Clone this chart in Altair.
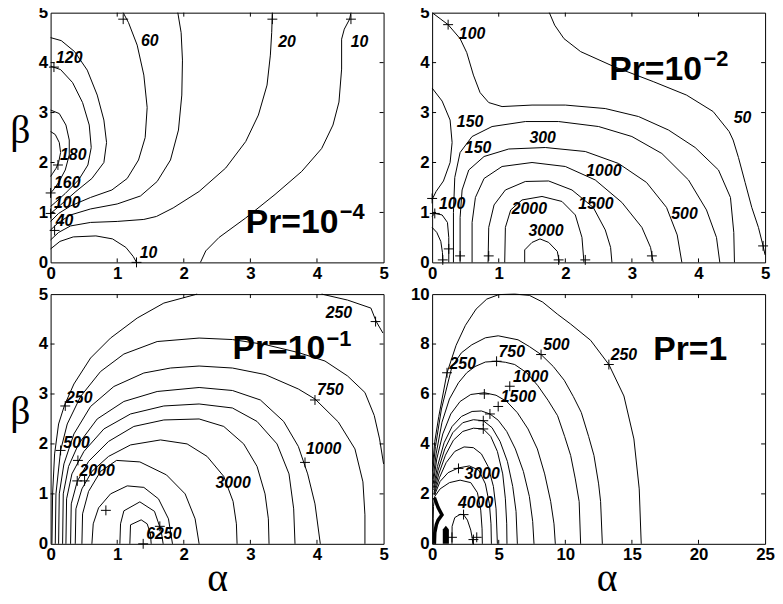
import altair as alt
import pandas as pd

W, H = 336, 252

# ---------------- Panel 1 : Pr = 10^-4 ----------------
p1_lines = {
    "180": [(0, 2.62), (0.07, 2.56), (0.13, 2.4), (0.15, 2.2), (0.12, 2.0), (0.08, 1.88), (0.03, 1.78), (0, 1.72)],
    "160": [(0, 3.05), (0.13, 2.98), (0.23, 2.75), (0.28, 2.45), (0.28, 2.15), (0.22, 1.85), (0.12, 1.6), (0.04, 1.45), (0, 1.39)],
    "120": [(0, 3.93), (0.15, 3.86), (0.33, 3.6), (0.48, 3.2), (0.58, 2.75), (0.61, 2.3), (0.56, 1.95), (0.42, 1.65), (0.22, 1.38), (0.07, 1.2), (0, 1.12)],
    "100": [(0, 4.5), (0.16, 4.44), (0.36, 4.22), (0.55, 3.85), (0.7, 3.35), (0.8, 2.85), (0.84, 2.4), (0.8, 2.0), (0.62, 1.68), (0.38, 1.42), (0.15, 1.15), (0, 0.98)],
    "60": [(0, 0.82), (0.12, 0.98), (0.3, 1.13), (0.6, 1.3), (0.92, 1.45), (1.15, 1.68), (1.32, 2.05), (1.42, 2.5), (1.45, 3.1), (1.4, 3.75), (1.3, 4.35), (1.17, 4.8), (1.09, 5.0)],
    "40": [(0, 0.65), (0.12, 0.8), (0.3, 0.95), (0.6, 1.07), (1.0, 1.17), (1.35, 1.33), (1.6, 1.62), (1.8, 2.05), (1.92, 2.65), (1.97, 3.35), (1.98, 4.05), (1.96, 4.6), (1.91, 5.0)],
    "20": [(0, 0.45), (0.12, 0.6), (0.3, 0.73), (0.6, 0.8), (1.0, 0.82), (1.4, 0.86), (1.59, 0.92), (1.84, 1.09), (2.23, 1.42), (2.63, 1.89), (2.93, 2.42), (3.12, 2.95), (3.25, 3.55), (3.3, 4.15), (3.32, 4.6), (3.33, 5.0)],
    "10a": [(0, 0.27), (0.14, 0.42), (0.34, 0.51), (0.68, 0.53), (0.93, 0.47), (1.13, 0.3), (1.24, 0.12), (1.29, 0)],
    "10b": [(4.51, 5.0), (4.49, 4.87), (4.41, 4.67), (4.37, 4.47), (4.37, 3.87), (4.33, 3.21), (4.24, 2.75), (4.07, 2.28), (3.77, 1.82), (3.37, 1.36), (2.93, 0.89), (2.53, 0.5), (2.33, 0.23), (2.25, 0)],
}
p1_plus = [(1.09, 4.87), (3.33, 4.87), (4.51, 4.87), (0.05, 3.91), (0.11, 1.95), (0, 1.39), (0, 0.98), (0.06, 0.64), (1.29, 0)]
p1_labels = [("60", 1.49, 4.44), ("20", 3.55, 4.42), ("10", 4.64, 4.42), ("120", 0.28, 4.1), ("180", 0.34, 2.15),
             ("160", 0.25, 1.59), ("100", 0.25, 1.18), ("40", 0.21, 0.82), ("10", 1.47, 0.19)]
p1_pr = ("Pr=10", 2.93, 0.78)
p1_sup = ("\u22124", 2.93, 0.78)

# ---------------- Panel 2 : Pr = 10^-2 ----------------
p2_lines = {
    "50": [(1.76, 5), (1.84, 4.75), (1.98, 4.48), (2.23, 4.22), (2.73, 3.92), (3.32, 3.62), (3.82, 3.35), (4.22, 3.02), (4.46, 2.62), (4.52, 2.45), (4.6, 2.1), (4.7, 1.6), (4.8, 1.1), (4.9, 0.7), (4.97, 0.33), (5.0, 0.15)],
    "100": [(0, 5), (0.12, 4.88), (0.24, 4.76), (0.42, 4.48), (0.52, 4.2), (0.62, 3.75), (0.72, 3.4), (0.85, 3.2), (1.05, 3.12), (1.5, 3.15), (2.0, 3.15), (2.6, 3.08), (3.1, 2.92), (3.55, 2.65), (3.95, 2.3), (4.3, 1.85), (4.48, 1.3), (4.53, 0.6), (4.54, 0)],
    "150a": [(0, 3.49), (0.15, 3.23), (0.27, 2.85), (0.3, 2.4), (0.27, 2.0), (0.17, 1.63), (0.06, 1.42), (0.015, 1.3), (0, 1.25)],
    "150b": [(0.32, 0), (0.32, 1.0), (0.34, 1.7), (0.42, 2.2), (0.6, 2.52), (0.9, 2.72), (1.4, 2.82), (1.9, 2.82), (2.5, 2.72), (3.0, 2.52), (3.45, 2.18), (3.85, 1.65), (4.12, 1.05), (4.27, 0.5), (4.32, 0)],
    "300": [(0.42, 0), (0.42, 0.9), (0.45, 1.45), (0.55, 1.85), (0.78, 2.12), (1.15, 2.27), (1.7, 2.3), (2.3, 2.22), (2.8, 1.98), (3.22, 1.6), (3.52, 1.1), (3.68, 0.55), (3.75, 0)],
    "1000": [(0.6, 0), (0.6, 0.8), (0.65, 1.3), (0.78, 1.68), (1.05, 1.92), (1.5, 2.0), (2.0, 1.92), (2.45, 1.65), (2.85, 1.2), (3.15, 0.7), (3.28, 0.3), (3.32, 0)],
    "1500": [(0.84, 0), (0.85, 0.7), (0.93, 1.15), (1.1, 1.45), (1.4, 1.62), (1.75, 1.63), (2.1, 1.45), (2.42, 1.1), (2.6, 0.65), (2.68, 0.3), (2.7, 0)],
    "2000": [(1.09, 0), (1.1, 0.7), (1.18, 1.05), (1.35, 1.25), (1.65, 1.32), (1.95, 1.22), (2.15, 0.95), (2.25, 0.5), (2.28, 0)],
    "3000": [(1.39, 0), (1.39, 0.25), (1.5, 0.4), (1.62, 0.47), (1.75, 0.4), (1.88, 0.22), (1.91, 0)],
    "100c": [(0, 0.92), (0.04, 0.98), (0.15, 0.95), (0.23, 0.8), (0.25, 0.5), (0.25, 0)],
    "50c": [(0, 0.7), (0.07, 0.6), (0.13, 0.42), (0.155, 0.2), (0.16, 0)],
}
p2_plus = [(0.24, 4.76), (0, 1.28), (0.04, 0.98), (0.16, 0.05), (0.25, 0.27), (0.42, 0.13), (0.85, 0.13),
           (1.9, 0.05), (2.3, 0.05), (3.3, 0.13), (4.97, 0.33)]
p2_labels = [("100", 0.6, 4.58), ("150", 0.57, 2.82), ("150", 0.69, 2.29), ("300", 1.66, 2.49), ("1000", 2.58, 1.83),
             ("50", 4.66, 2.89), ("100", 0.3, 1.16), ("2000", 1.46, 1.06), ("1500", 2.46, 1.16), ("500", 3.79, 0.96),
             ("3000", 1.71, 0.63)]
p2_pr = ("Pr=10", 2.66, 3.85)
p2_sup = ("\u22122", 2.66, 3.85)

# ---------------- Panel 3 : Pr = 10^-1 ----------------
p3_lines = {
    "A1": [(0.02, 0), (0.03, 1.0), (0.06, 1.8), (0.12, 2.4), (0.21, 2.78), (0.35, 3.2), (0.6, 3.72), (0.9, 4.12), (1.3, 4.52), (1.7, 4.82), (2.2, 5.0)],
    "A1b": [(4.07, 5.0), (4.46, 4.88), (4.81, 4.72), (4.89, 4.45), (4.99, 4.22)],
    "A2": [(0.07, 0), (0.08, 1.0), (0.15, 1.87), (0.25, 2.4), (0.45, 2.95), (0.75, 3.45), (1.1, 3.8), (1.6, 4.05), (2.23, 4.12), (2.73, 4.09), (3.22, 3.99), (3.72, 3.83), (4.12, 3.66), (4.46, 3.36), (4.72, 3.03), (4.86, 2.57), (4.94, 2.1), (5.0, 1.6)],
    "A3": [(0.12, 0), (0.13, 1.0), (0.2, 1.6), (0.35, 2.2), (0.6, 2.75), (0.95, 3.15), (1.4, 3.42), (1.8, 3.52), (2.23, 3.56), (2.73, 3.52), (3.22, 3.39), (3.72, 3.1), (3.97, 2.9), (4.32, 2.44), (4.57, 1.9), (4.69, 1.24), (4.72, 0.58), (4.72, 0)],
    "A4": [(0.18, 0), (0.19, 1.0), (0.27, 1.55), (0.42, 2.0), (0.7, 2.5), (1.1, 2.85), (1.6, 3.05), (2.23, 3.13), (2.73, 3.07), (3.15, 2.88), (3.5, 2.45), (3.72, 1.95), (3.86, 1.4), (3.97, 0.8), (4.05, 0)],
    "A5": [(0.23, 0), (0.24, 0.9), (0.32, 1.4), (0.5, 1.85), (0.8, 2.3), (1.2, 2.6), (1.7, 2.76), (2.23, 2.8), (2.73, 2.72), (3.1, 2.45), (3.4, 2.0), (3.58, 1.4), (3.65, 0.7), (3.67, 0)],
    "A6": [(0.3, 0), (0.31, 0.8), (0.4, 1.25), (0.57, 1.65), (0.87, 2.05), (1.25, 2.35), (1.7, 2.48), (2.23, 2.5), (2.6, 2.35), (2.9, 2.0), (3.1, 1.55), (3.22, 1.0), (3.27, 0.5), (3.28, 0)],
    "A7": [(0.37, 0), (0.38, 0.7), (0.47, 1.1), (0.62, 1.45), (0.87, 1.75), (1.2, 1.98), (1.65, 2.08), (2.05, 2.0), (2.35, 1.75), (2.6, 1.35), (2.74, 0.85), (2.79, 0.4), (2.8, 0)],
    "A8": [(0.47, 0), (0.48, 0.6), (0.57, 1.05), (0.75, 1.45), (0.99, 1.67), (1.34, 1.64), (1.74, 1.38), (2.02, 1.0), (2.17, 0.5), (2.23, 0)],
    "A9": [(0.62, 0), (0.64, 0.4), (0.72, 0.72), (0.9, 1.0), (1.15, 1.16), (1.4, 1.13), (1.62, 0.9), (1.77, 0.5), (1.83, 0)],
    "A10": [(1.04, 0), (1.05, 0.4), (1.1, 0.66), (1.34, 0.84), (1.56, 0.65), (1.66, 0.26), (1.69, 0)],
    "A11": [(1.19, 0), (1.2, 0.38), (1.36, 0.48), (1.45, 0.4), (1.5, 0.2), (1.51, 0)],
}
p3_plus = [(0.22, 2.76), (0.15, 1.87), (0.41, 1.67), (0.4, 1.26), (0.51, 1.26), (0.83, 0.67), (1.39, 0),
           (1.64, 0.35), (3.97, 2.88), (3.82, 1.63), (4.88, 4.45)]
p3_labels = [("250", 4.33, 4.63), ("750", 4.2, 3.08), ("1000", 4.1, 1.9), ("3000", 2.74, 1.22), ("250", 0.43, 2.92),
             ("500", 0.39, 2.02), ("2000", 0.7, 1.46), ("6250", 1.7, 0.2)]
p3_pr = ("Pr=10", 2.73, 3.89)
p3_sup = ("\u22121", 2.73, 3.89)

# ---------------- Panel 4 : Pr = 1 ----------------
p4_lines = {
    "250": [(0.05, 3.2), (0.2, 4.1), (0.5, 5.1), (1.12, 6.85), (1.8, 7.95), (2.5, 8.75), (3.3, 9.4), (4.1, 9.8), (5.0, 9.98), (6.2, 10.0), (7.3, 9.95), (8.3, 9.68), (9.4, 9.2), (10.4, 8.8), (11.9, 8.15), (13.27, 7.18), (14.4, 5.92), (15.15, 4.2), (15.55, 2.2), (15.7, 0)],
    "500": [(0.05, 2.9), (0.25, 3.9), (0.7, 5.4), (1.49, 7.1), (2.2, 7.65), (2.98, 7.97), (4.0, 8.25), (4.96, 8.33), (6.45, 8.17), (7.3, 7.9), (8.18, 7.58), (9.1, 7.1), (9.92, 6.55), (10.6, 5.9), (11.2, 5.26), (11.75, 4.3), (12.15, 3.54), (12.5, 2.4), (12.65, 1.69), (12.78, 0)],
    "750": [(0.07, 2.6), (0.3, 3.6), (0.74, 4.87), (1.3, 5.8), (1.98, 6.45), (2.6, 6.85), (3.22, 7.1), (4.0, 7.28), (4.84, 7.31), (5.5, 7.27), (6.2, 7.18), (7.1, 6.85), (7.94, 6.33), (8.7, 5.75), (9.42, 5.13), (9.95, 4.3), (10.4, 3.54), (10.75, 2.6), (11.04, 1.69), (11.15, 0)],
    "1000": [(0.08, 2.4), (0.35, 3.4), (0.8, 4.4), (1.4, 5.2), (2.1, 5.7), (2.9, 5.98), (3.92, 6.05), (4.8, 5.95), (5.6, 5.7), (6.4, 5.25), (7.2, 4.6), (7.9, 3.8), (8.45, 2.8), (8.9, 1.7), (9.15, 0.8), (9.25, 0)],
    "1500": [(0.1, 2.25), (0.4, 3.1), (0.9, 4.05), (1.5, 4.7), (2.2, 5.1), (3.0, 5.3), (3.7, 5.32), (4.34, 5.2), (4.96, 4.95), (5.6, 4.5), (6.25, 3.8), (6.85, 2.9), (7.3, 1.9), (7.55, 0.9), (7.65, 0)],
    "1750": [(0.12, 2.15), (0.45, 2.95), (0.95, 3.8), (1.55, 4.45), (2.3, 4.85), (3.1, 4.97), (3.84, 4.93), (4.5, 4.65), (5.1, 4.1), (5.65, 3.3), (6.05, 2.3), (6.3, 1.3), (6.4, 0)],
    "2000": [(0.14, 2.05), (0.5, 2.8), (1.0, 3.55), (1.6, 4.15), (2.3, 4.5), (3.1, 4.63), (3.84, 4.6), (4.4, 4.3), (4.9, 3.7), (5.3, 2.8), (5.5, 1.8), (5.6, 0.8), (5.62, 0)],
    "2500": [(0.16, 2.0), (0.55, 2.65), (1.05, 3.25), (1.7, 3.7), (2.4, 3.88), (3.1, 3.85), (3.7, 3.6), (4.2, 3.1), (4.6, 2.3), (4.8, 1.4), (4.9, 0)],
    "3000": [(0.18, 1.95), (0.6, 2.5), (1.2, 2.85), (1.98, 3.04), (2.8, 3.12), (3.5, 2.95), (4.0, 2.4), (4.3, 1.6), (4.42, 0.8), (4.45, 0)],
    "3500": [(0.2, 1.9), (0.6, 2.2), (1.3, 2.45), (2.1, 2.55), (2.9, 2.45), (3.4, 2.05), (3.65, 1.35), (3.75, 0.6), (3.77, 0)],
    "4000": [(1.49, 0), (1.5, 0.7), (1.7, 1.05), (2.1, 1.18), (2.36, 1.17), (2.65, 0.95), (2.9, 0.55), (3.02, 0.2), (3.05, 0)],
    "edge": [(0.2, 1.9), (0.1, 1.5), (0.08, 1.0), (0.08, 0.5), (0.08, 0)],
}
p4_thick = [(0.17, 1.85), (0.45, 1.45), (0.74, 1.16), (0.45, 0.95), (0.32, 0.77), (0.2, 0.45), (0.17, 0)]
p4_blob_x = [0.8, 1.03, 1.26]
p4_blob_y = [0.57, 0.72, 0.57]
p4_plus = [(1.12, 6.85), (4.84, 7.31), (8.18, 7.58), (13.27, 7.18), (5.83, 6.31), (3.92, 6.0), (4.96, 5.5),
           (4.34, 5.2), (3.84, 4.93), (3.84, 4.6), (1.98, 3.02), (2.36, 1.17), (1.49, 0.26), (3.1, 0.17), (3.35, 0.26)]
p4_labels = [("250", 2.3, 7.2), ("750", 5.98, 7.67), ("500", 9.33, 7.96), ("250", 14.4, 7.56), ("1000", 7.4, 6.69),
             ("1500", 6.48, 5.88), ("3000", 3.75, 2.8), ("4000", 3.27, 1.62)]
p4_pr = ("Pr=1", 16.6, 7.74)

# tick values
ticks5 = [0, 1, 2, 3, 4, 5]
ticks25 = [0, 5, 10, 15, 20, 25]
ticks10 = [0, 2, 4, 6, 8, 10]

PLUS = "M-1,0L1,0M0,-1L0,1"
SANS = "Liberation Sans"
SERIF = "Liberation Serif"


def lines_df(d):
    rows = []
    for k, pts in d.items():
        for i, (x, y) in enumerate(pts):
            rows.append({"cid": k, "o": i, "x": x, "y": y})
    return pd.DataFrame(rows)


def panel(lines, pluses, labels, pr, sup, xdom, ydom, xt, yt, xtitle, ytitle, xtitle_x=W / 2,
          thick=None, blob=None):
    xs = alt.Scale(domain=xdom, nice=False, zero=False)
    ys = alt.Scale(domain=ydom, nice=False, zero=False)
    common = dict(domain=False, ticks=False, grid=False, labelFont=SANS, labelFontWeight="bold",
                  labelFontSize=17, labelColor="black", labelPadding=3, labelFlush=False,
                  labelOverlap=False, format="d")
    if xtitle:
        xax = alt.Axis(values=xt, title=xtitle, titleFont=SERIF, titleFontSize=40, titleFontWeight="normal",
                       titleColor="black", titleX=xtitle_x, titleY=47, titleAlign="center",
                       titleBaseline="alphabetic", **common)
    else:
        xax = alt.Axis(values=xt, title=None, **common)
    if ytitle:
        yax = alt.Axis(values=yt, title=ytitle, titleFont=SERIF, titleFontSize=40, titleFontWeight="normal",
                       titleColor="black", titleAngle=0, titleX=-31, titleY=131, titleAlign="center",
                       titleBaseline="alphabetic", **common)
    else:
        yax = alt.Axis(values=yt, title=None, **common)

    def X():
        return alt.X("x:Q", scale=xs, axis=xax)

    def Y():
        return alt.Y("y:Q", scale=ys, axis=yax)

    layers = []
    layers.append(alt.Chart(lines_df(lines)).mark_line(color="black", strokeWidth=1).encode(
        x=X(), y=Y(), detail="cid:N", order="o:Q"))
    if thick is not None:
        layers.append(alt.Chart(lines_df({"t": thick})).mark_line(color="black", strokeWidth=3.5).encode(
            x=X(), y=Y(), order="o:Q"))
    if blob is not None:
        layers.append(alt.Chart(pd.DataFrame({"x": blob[0], "y": blob[1]})).mark_area(color="black").encode(
            x=X(), y=Y(), y2=alt.datum(0)))
    layers.append(alt.Chart(pd.DataFrame(pluses, columns=["x", "y"])).mark_point(
        shape=PLUS, size=100, filled=False, color="black", strokeWidth=1, opacity=1).encode(x=X(), y=Y()))
    layers.append(alt.Chart(pd.DataFrame(labels, columns=["t", "x", "y"])).mark_text(
        font=SANS, fontSize=16, fontStyle="italic", fontWeight="bold", color="black",
        align="center", baseline="middle").encode(x=X(), y=Y(), text="t:N"))
    layers.append(alt.Chart(pd.DataFrame([pr], columns=["t", "x", "y"])).mark_text(
        font=SANS, fontSize=34, fontWeight="bold", color="black", align="left", baseline="middle").encode(
        x=X(), y=Y(), text="t:N"))
    if sup is not None:
        layers.append(alt.Chart(pd.DataFrame([sup], columns=["t", "x", "y"])).mark_text(
            font=SANS, fontSize=22, fontWeight="bold", color="black", align="left", baseline="middle",
            dx=95, dy=-11).encode(x=X(), y=Y(), text="t:N"))
    inner_x = pd.DataFrame({"x": xt[1:-1]})
    inner_y = pd.DataFrame({"y": yt[1:-1]})
    layers.append(alt.Chart(inner_x).mark_rule(color="black", strokeWidth=1).encode(
        x=X(), y=alt.value(H), y2=alt.value(H - 4)))
    layers.append(alt.Chart(inner_x).mark_rule(color="black", strokeWidth=1).encode(
        x=X(), y=alt.value(0), y2=alt.value(4)))
    layers.append(alt.Chart(inner_y).mark_rule(color="black", strokeWidth=1).encode(
        y=Y(), x=alt.value(0), x2=alt.value(4)))
    layers.append(alt.Chart(inner_y).mark_rule(color="black", strokeWidth=1).encode(
        y=Y(), x=alt.value(W), x2=alt.value(W - 4)))
    return alt.layer(*layers).properties(width=W, height=H)


c1 = panel(p1_lines, p1_plus, p1_labels, p1_pr, p1_sup, [0, 5], [0, 5], ticks5, ticks5, None, "\u03b2")
c2 = panel(p2_lines, p2_plus, p2_labels, p2_pr, p2_sup, [0, 5], [0, 5], ticks5, ticks5, None, None)
c3 = panel(p3_lines, p3_plus, p3_labels, p3_pr, p3_sup, [0, 5], [0, 5], ticks5, ticks5, "\u03b1", "\u03b2")
c4 = panel(p4_lines, p4_plus, p4_labels, p4_pr, None, [0, 25], [0, 10], ticks25, ticks10, "\u03b1", None,
           xtitle_x=176, thick=p4_thick, blob=(p4_blob_x, p4_blob_y))

chart = alt.concat(c1, c2, c3, c4, columns=2, spacing={"row": 32, "column": 49}, bounds="flush").configure_view(
    stroke="black", strokeWidth=1).properties(
    padding={"top": -8, "left": 1, "right": 0, "bottom": 0}, background="white")

chart.save("out.html", embed_options={"renderer": "svg", "actions": False})
